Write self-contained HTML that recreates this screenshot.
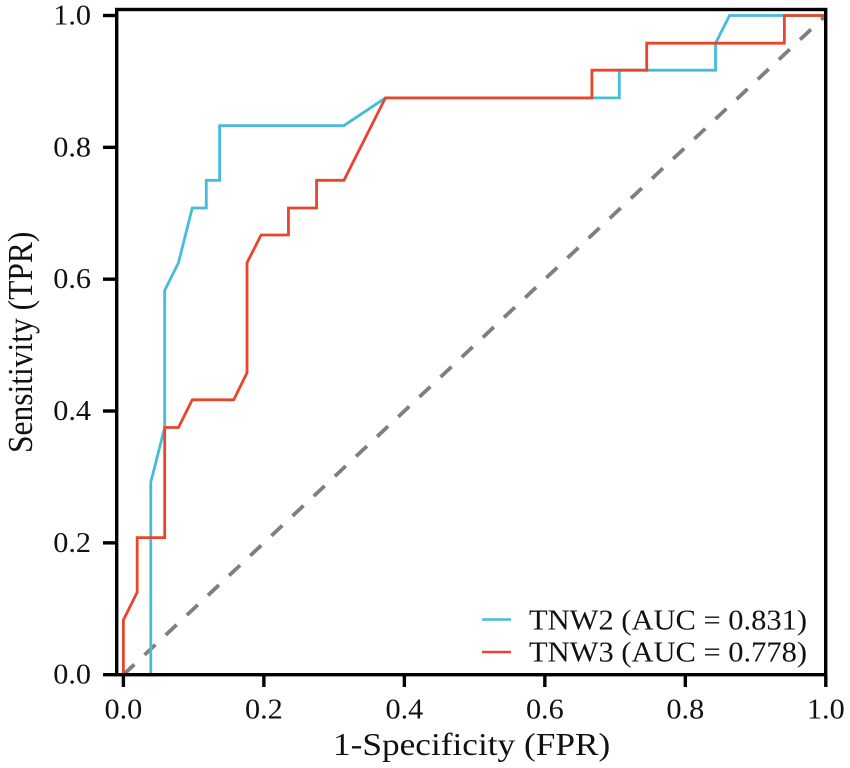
<!DOCTYPE html>
<html lang="en">
<head>
<meta charset="utf-8">
<title>ROC curves</title>
<style>
html,body{margin:0;padding:0;background:#fff;width:850px;height:768px;overflow:hidden}
svg{display:block;filter:blur(0.35px)}
text{font-family:"Liberation Serif",serif;fill:#111}
</style>
</head>
<body>
<svg id="chart" width="850" height="768" viewBox="0 0 850 768" xmlns="http://www.w3.org/2000/svg">
<rect x="0" y="0" width="850" height="768" fill="#fff"/>
<g id="marks"></g>
<g id="frame"></g>
<text x="0" y="0" transform="translate(333 755) scale(1.12 1)" font-size="31.5">1-Specificity (FPR)</text>
<text x="0" y="0" transform="translate(32 453) rotate(-90) scale(1 1.12)" font-size="31.5">Sensitivity (TPR)</text>
<g>
<line x1="482" x2="511" y1="619.5" y2="619.5" stroke="#45bcd8" stroke-width="2.6"/>
<line x1="482" x2="511" y1="652" y2="652" stroke="#e8452c" stroke-width="2.6"/>
<text x="0" y="0" transform="translate(529 629.5) scale(1.09 1)" font-size="28">TNW2 (AUC = 0.831)</text>
<text x="0" y="0" transform="translate(529 661.5) scale(1.09 1)" font-size="28">TNW3 (AUC = 0.778)</text>
</g>
</svg>
<script>
const xTickLabels = ["0.0", "0.2", "0.4", "0.6", "0.8", "1.0"];
const yTickLabels = ["0.0", "0.2", "0.4", "0.6", "0.8", "1.0"];
const xTicks = [0, 0.2, 0.4, 0.6, 0.8, 1];
const yTicks = [0, 0.2, 0.4, 0.6, 0.8, 1];
const tnw2Fpr = [0, 0.039, 0.039, 0.0588, 0.0588, 0.0784, 0.098, 0.118, 0.118, 0.137, 0.137, 0.314, 0.373, 0.706, 0.706, 0.843, 0.843, 0.863, 1];
const tnw2Tpr = [0, 0, 0.292, 0.375, 0.583, 0.625, 0.708, 0.708, 0.75, 0.75, 0.833, 0.833, 0.875, 0.875, 0.917, 0.917, 0.958, 1, 1];
const tnw3Fpr = [0, 0, 0.0196, 0.0196, 0.0588, 0.0588, 0.0784, 0.098, 0.157, 0.176, 0.176, 0.196, 0.235, 0.235, 0.275, 0.275, 0.314, 0.373, 0.667, 0.667, 0.745, 0.745, 0.941, 0.941, 1];
const tnw3Tpr = [0, 0.083, 0.125, 0.208, 0.208, 0.375, 0.375, 0.417, 0.417, 0.458, 0.625, 0.667, 0.667, 0.708, 0.708, 0.75, 0.75, 0.875, 0.875, 0.917, 0.917, 0.958, 0.958, 1, 1];
const chanceFpr = [0, 1];
const chanceTpr = [0, 1];

const NS = "http://www.w3.org/2000/svg";
const xScale = v => 123.4 + 702.4 * v;
const yScale = v => 674.7 - 659.2 * v;
const marks = document.getElementById("marks");
const frame = document.getElementById("frame");

function pointsOf(xs, ys) {
  return xs.map((x, i) => xScale(x).toFixed(2) + "," + yScale(ys[i]).toFixed(2)).join(" ");
}

const chanceLine = document.createElementNS(NS, "polyline");


chanceLine.setAttribute("points", pointsOf(chanceFpr, chanceTpr));
chanceLine.setAttribute("fill", "none");
chanceLine.setAttribute("stroke", "#7f7f7f");
chanceLine.setAttribute("stroke-width", "3.8");
chanceLine.setAttribute("stroke-dasharray", "15 14");
marks.appendChild(chanceLine);

const tnw2Line = document.createElementNS(NS, "polyline");


tnw2Line.setAttribute("points", pointsOf(tnw2Fpr, tnw2Tpr));
tnw2Line.setAttribute("fill", "none");
tnw2Line.setAttribute("stroke", "#45bcd8");
tnw2Line.setAttribute("stroke-width", "2.8");
marks.appendChild(tnw2Line);

const tnw3Line = document.createElementNS(NS, "polyline");


tnw3Line.setAttribute("points", pointsOf(tnw3Fpr, tnw3Tpr));
tnw3Line.setAttribute("fill", "none");
tnw3Line.setAttribute("stroke", "#e8452c");
tnw3Line.setAttribute("stroke-width", "2.8");
marks.appendChild(tnw3Line);

const border = document.createElementNS(NS, "rect");


border.setAttribute("x", "116.7");
border.setAttribute("y", "9.5");
border.setAttribute("width", "709");
border.setAttribute("height", "665.2");
border.setAttribute("fill", "none");
border.setAttribute("stroke", "#000");
border.setAttribute("stroke-width", "3.4");
frame.appendChild(border);

xTicks.forEach((t, i) => {
  const tick = document.createElementNS(NS, "line");
  
  
  tick.setAttribute("x1", xScale(t));
  tick.setAttribute("x2", xScale(t));
  tick.setAttribute("y1", 674.7);
  tick.setAttribute("y2", 687);
  tick.setAttribute("stroke", "#000");
  tick.setAttribute("stroke-width", "3.4");
  frame.appendChild(tick);
  const label = document.createElementNS(NS, "text");
  
  
  label.setAttribute("transform", "translate(" + xScale(t) + " 718.5) scale(1.08 1)");
  label.setAttribute("text-anchor", "middle");
  label.setAttribute("font-size", "28");
  label.textContent = xTickLabels[i];
  frame.appendChild(label);
});

yTicks.forEach((t, i) => {
  const tick = document.createElementNS(NS, "line");
  
  
  tick.setAttribute("x1", 103);
  tick.setAttribute("x2", 116.7);
  tick.setAttribute("y1", yScale(t));
  tick.setAttribute("y2", yScale(t));
  tick.setAttribute("stroke", "#000");
  tick.setAttribute("stroke-width", "3.4");
  frame.appendChild(tick);
  const label = document.createElementNS(NS, "text");
  
  
  label.setAttribute("transform", "translate(91 " + (yScale(t) + 9) + ") scale(1.08 1)");
  label.setAttribute("text-anchor", "end");
  label.setAttribute("font-size", "28");
  label.textContent = yTickLabels[i];
  frame.appendChild(label);
});
</script>
</body>
</html>
